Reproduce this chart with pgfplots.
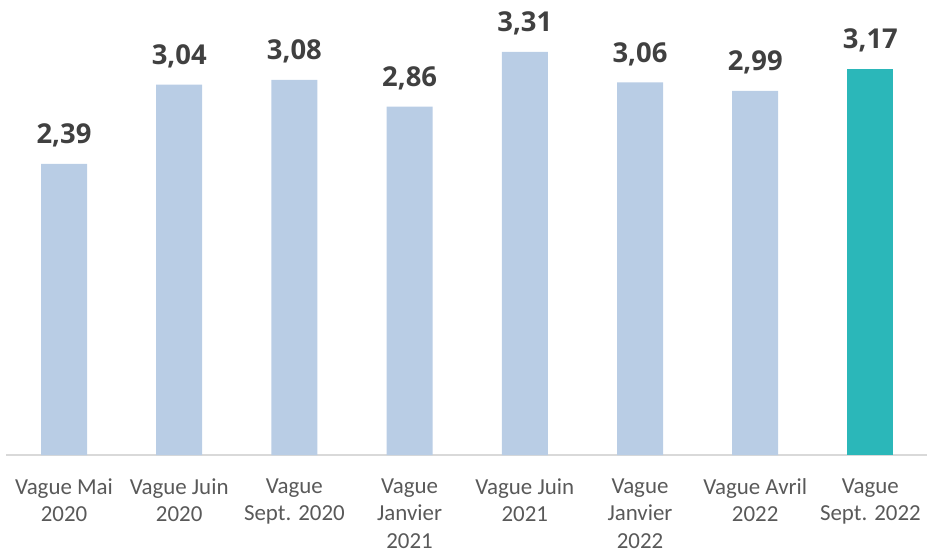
\documentclass[border=0pt]{standalone}
\usepackage{pgfplots}
\pgfplotsset{compat=1.18}
\usepackage{fontspec}
\setmainfont{Carlito}
\newfontfamily\labfont{Open Sans}
\definecolor{lblue}{HTML}{B9CDE5}
\definecolor{teal2}{HTML}{2BB7B9}
\definecolor{tickc}{HTML}{595959}
\definecolor{valc}{HTML}{404040}
\definecolor{axc}{HTML}{D9D9D9}
\begin{document}
\begin{tikzpicture}
\useasboundingbox (-6.4bp,-99bp) rectangle (920.6bp,455bp);
\begin{axis}[
  at={(0,0)}, anchor=south west,
  scale only axis, width=921.6bp, height=455bp,
  xmin=-0.5, xmax=7.5, ymin=0, ymax=3.7356,
  axis x line*=bottom, axis y line=none,
  x axis line style={draw=axc, line width=1.2bp, -},
  xtick={0,...,7}, major tick length=0pt,
  xticklabels={{Vague Mai\\2020},{Vague Juin\\2020},{Vague\\Sept. 2020},{Vague\\Janvier\\2021},{Vague Juin\\2021},{Vague\\Janvier\\2022},{Vague Avril\\2022},{Vague\\Sept. 2022}},
  xticklabel style={font=\fontsize{23}{27.5}\selectfont, text=tickc, align=center, anchor=north, yshift=-20bp},
  ybar, bar width=46bp,
  /pgf/number format/assume math mode=true,
  nodes near coords={\pgfmathprintnumber[fixed,zerofill,precision=2,use comma]{\pgfplotspointmeta}},
  every node near coord/.append style={font=\labfont\bfseries\fontsize{27.5}{30}\selectfont, text=valc, anchor=base, yshift=20bp},
  clip=false,
]
\addplot[fill=lblue, draw=none, bar shift=0pt] coordinates {(0,2.39) (1,3.04) (2,3.08) (3,2.86) (4,3.31) (5,3.06) (6,2.99)};
\addplot[fill=teal2, draw=none, bar shift=0pt] coordinates {(7,3.17)};
\end{axis}
\end{tikzpicture}
\end{document}
